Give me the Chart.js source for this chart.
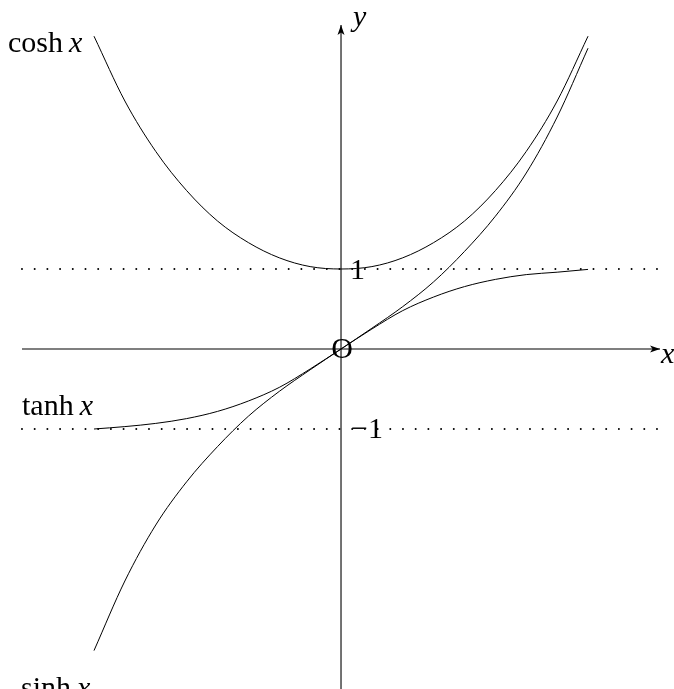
<!DOCTYPE html>
<html>
<head>
<meta charset="utf-8">
<script src="https://cdn.jsdelivr.net/npm/chart.js@4/dist/chart.umd.min.js"></script>
<style>
  html, body { margin: 0; padding: 0; background: #fff; }
  canvas { display: block; }
</style>
</head>
<body>
<canvas id="chart" width="674" height="689"></canvas>
<script>
// values, x step 0.25
const xValues = [-2, -1.75, -1.5, -1.25, -1, -0.75, -0.5, -0.25, 0, 0.25, 0.5, 0.75, 1, 1.25, 1.5, 1.75, 2];
const coshValues = [3.91, 3.1, 2.47, 1.98, 1.6, 1.33, 1.14, 1.03, 1.0, 1.03, 1.14, 1.33, 1.6, 1.98, 2.47, 3.1, 3.91];
const sinhValues = [-3.77, -2.9, -2.2, -1.66, -1.22, -0.84, -0.53, -0.26, 0, 0.26, 0.53, 0.84, 1.22, 1.66, 2.2, 2.9, 3.76];
const tanhValues = [-1.0, -0.97, -0.93, -0.87, -0.78, -0.65, -0.48, -0.25, 0, 0.25, 0.48, 0.65, 0.78, 0.87, 0.93, 0.96, 0.995];

const asymptotes = [1, -1];
const xAxisRange = [-2.583, 2.583];
const yAxisRange = [-4.3, 4.05];

const tickValues = [1, 0, -1];
const tickLabels = ['1', 'O', '\u22121'];

const curveNames = ['cosh', 'tanh', 'sinh'];

function points(ys) {
    return xValues.map((x, i) => ({ x: x, y: ys[i] }));
}

const curveStyle = {
    showLine: true,
    borderColor: '#000',
    borderWidth: 1,
    pointRadius: 0,
    cubicInterpolationMode: 'monotone'
};

const dotted = {
    showLine: true,
    borderColor: '#000',
    borderWidth: 2,
    borderDash: [0, 12.7],
    borderCapStyle: 'round',
    pointRadius: 0
};

const axisStyle = {
    showLine: true,
    borderColor: '#000',
    borderWidth: 1.1,
    pointRadius: 0
};

const data = {
    datasets: [
        Object.assign({ data: [{ x: xAxisRange[0], y: asymptotes[0] }, { x: xAxisRange[1], y: asymptotes[0] }] }, dotted),
        Object.assign({ data: [{ x: xAxisRange[0], y: asymptotes[1] }, { x: xAxisRange[1], y: asymptotes[1] }] }, dotted),
        Object.assign({ data: [{ x: xAxisRange[0], y: 0 }, { x: xAxisRange[1], y: 0 }] }, axisStyle),
        Object.assign({ data: [{ x: 0, y: yAxisRange[0] }, { x: 0, y: yAxisRange[1] }] }, axisStyle),
        Object.assign({ data: points(coshValues) }, curveStyle),
        Object.assign({ data: points(sinhValues) }, curveStyle),
        Object.assign({ data: points(tanhValues) }, curveStyle)
    ]
};

const serif = '"Liberation Serif", "DejaVu Serif", serif';

function drawMixed(ctx, left, base, name) {
    ctx.font = '30px ' + serif;
    ctx.fillText(name, left, base);
    const w = ctx.measureText(name).width;
    ctx.font = 'italic 30px ' + serif;
    ctx.fillText('x', left + w + 6, base);
}

const decorations = {
    id: 'decorations',
    afterDatasetsDraw(chart) {
        const ctx = chart.ctx;
        const sx = chart.scales.x;
        const sy = chart.scales.y;
        const ox = sx.getPixelForValue(0);
        const oy = sy.getPixelForValue(0);
        ctx.save();
        ctx.fillStyle = '#000';

        // arrow heads
        const tipX = sx.getPixelForValue(xAxisRange[1]);
        ctx.beginPath();
        ctx.moveTo(tipX, oy);
        ctx.lineTo(tipX - 10, oy - 3.5);
        ctx.lineTo(tipX - 7.5, oy);
        ctx.lineTo(tipX - 10, oy + 3.5);
        ctx.closePath();
        ctx.fill();
        const tipY = sy.getPixelForValue(yAxisRange[1]);
        ctx.beginPath();
        ctx.moveTo(ox, tipY);
        ctx.lineTo(ox - 3.5, tipY + 10);
        ctx.lineTo(ox, tipY + 7.5);
        ctx.lineTo(ox + 3.5, tipY + 10);
        ctx.closePath();
        ctx.fill();

        // axis names
        ctx.font = 'italic 30px ' + serif;
        ctx.textBaseline = 'alphabetic';
        ctx.fillText('x', tipX + 1, oy + 14);
        ctx.fillText('y', ox + 12, tipY + 1);

        // ticks
        ctx.font = '30px ' + serif;
        ctx.textAlign = 'center';
        ctx.fillText(tickLabels[1], ox + 1, sy.getPixelForValue(tickValues[1]) + 9);
        ctx.textAlign = 'left';
        ctx.fillText(tickLabels[0], ox + 9, sy.getPixelForValue(tickValues[0]) + 10);
        ctx.fillText(tickLabels[2], ox + 10, sy.getPixelForValue(tickValues[2]) + 9);

        // curve names
        drawMixed(ctx, 8, 52, curveNames[0]);
        drawMixed(ctx, 22, 415, curveNames[1]);
        drawMixed(ctx, 21, 697, curveNames[2]);
        ctx.restore();
    }
};

const config = {
    type: 'scatter',
    data,
    options: {
        responsive: false,
        devicePixelRatio: 1,
        animation: false,
        layout: { padding: 0 },
        plugins: {
            legend: false,
            tooltip: false
        },
        scales: {
            x: { type: 'linear', display: false, min: -2.761, max: 2.696 },
            y: { type: 'linear', display: false, min: -4.25, max: 4.3625 }
        }
    },
    plugins: [decorations]
};

var myChart = new Chart(
    document.getElementById('chart'),
    config
);
</script>
</body>
</html>
